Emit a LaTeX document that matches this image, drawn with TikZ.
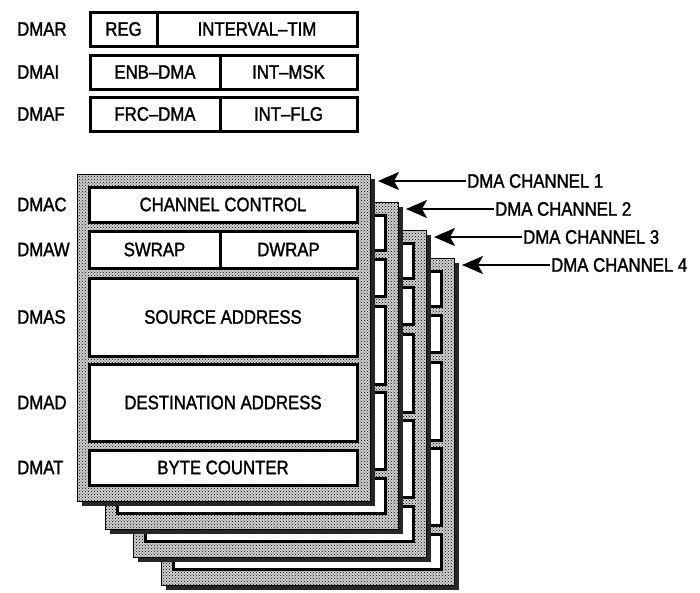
\documentclass[tikz,border=0pt]{standalone}
\usepackage{fontspec}
\setmainfont{Liberation Sans}[FakeStretch=0.86, FakeBold=1.5]
\usetikzlibrary{positioning,arrows.meta,patterns}

\begin{document}
\begin{tikzpicture}[
    x=1pt, y=-1pt,
    every node/.style={font=\fontsize{19.5}{22}\selectfont},
    reg/.style={draw, line width=3pt, fill=white, minimum height=34pt, inner sep=0pt, outer sep=0pt},
    lbl/.style={anchor=west, inner sep=0pt},
    board/.style={draw, line width=1pt, fill=black!18, postaction={pattern=crosshatch dots, pattern color=black},
        minimum width=293pt, minimum height=327pt, anchor=north west, inner sep=0pt, outer sep=0pt},
    shade/.style={fill=black!85},
    field/.style={draw, line width=3pt, fill=white, inner sep=0pt, outer sep=0pt, anchor=north west},
    chan/.style={anchor=west, inner sep=1pt},
    pointer/.style={-{Stealth[length=21pt,width=18pt,inset=5pt]}, line width=2pt}
]
\useasboundingbox (0,0) rectangle (700,592);

% Global registers
\node[reg, minimum width=67pt, anchor=north west] (regf) at (90,12) {REG};
\node[reg, minimum width=200pt, right=0pt of regf] (itim) {INTERVAL--TIM};
\node[reg, minimum width=130pt, anchor=north west] (enb) at (90,55) {ENB--DMA};
\node[reg, minimum width=137pt, right=0pt of enb] (imsk) {INT--MSK};
\node[reg, minimum width=130pt, anchor=north west] (frc) at (90,97) {FRC--DMA};
\node[reg, minimum width=137pt, right=0pt of frc] (iflg) {INT--FLG};

% Channel boards, back to front
\foreach \c in {4,3,2,1} {
    \pgfmathsetmacro\d{28*(\c-1)}
    \fill[shade] (82+\d,179+\d) rectangle ++(293,327);
    \node[board] (b\c) at (77+\d,174+\d) {};
    \node[field, minimum width=268pt, minimum height=35pt] (cc\c) at ([shift={(12,13)}]b\c.north west) {};
    \node[field, minimum width=131pt, minimum height=37pt] (sw\c) at ([shift={(12,57)}]b\c.north west) {};
    \node[field, minimum width=137pt, minimum height=37pt] (dw\c) at ([shift={(143,57)}]b\c.north west) {};
    \node[field, minimum width=268pt, minimum height=78pt] (sa\c) at ([shift={(12,104)}]b\c.north west) {};
    \node[field, minimum width=268pt, minimum height=77pt] (da\c) at ([shift={(12,190)}]b\c.north west) {};
    \node[field, minimum width=268pt, minimum height=35pt] (bc\c) at ([shift={(12,276)}]b\c.north west) {};
}

% Front board texts
\node (tcc) at (cc1) {CHANNEL CONTROL};
\node (tsw) at (sw1) {SWRAP};
\node (tdw) at (dw1) {DWRAP};
\node (tsa) at (sa1) {SOURCE ADDRESS};
\node (tda) at (da1) {DESTINATION ADDRESS};
\node (tbc) at (bc1) {BYTE COUNTER};

% Register names
\coordinate (lx) at (17,0);
\node[lbl] (ldmar) at (lx |- regf) {DMAR};
\node[lbl] (ldmai) at (lx |- enb) {DMAI};
\node[lbl] (ldmaf) at (lx |- frc) {DMAF};
\node[lbl] (ldmac) at (lx |- cc1) {DMAC};
\node[lbl] (ldmaw) at (lx |- sw1) {DMAW};
\node[lbl] (ldmas) at (lx |- sa1) {DMAS};
\node[lbl] (ldmad) at (lx |- da1) {DMAD};
\node[lbl] (ldmat) at (lx |- bc1) {DMAT};

% Channel pointers
\foreach \c in {1,2,3,4} {
    \pgfmathsetmacro\d{28*(\c-1)}
    \node[chan] (ch\c) at (466+\d,181+\d) {DMA CHANNEL \c};
    \draw[pointer] (ch\c.west) -- ([xshift=8pt,yshift=-7pt]b\c.north east);
}

\end{tikzpicture}
\end{document}
